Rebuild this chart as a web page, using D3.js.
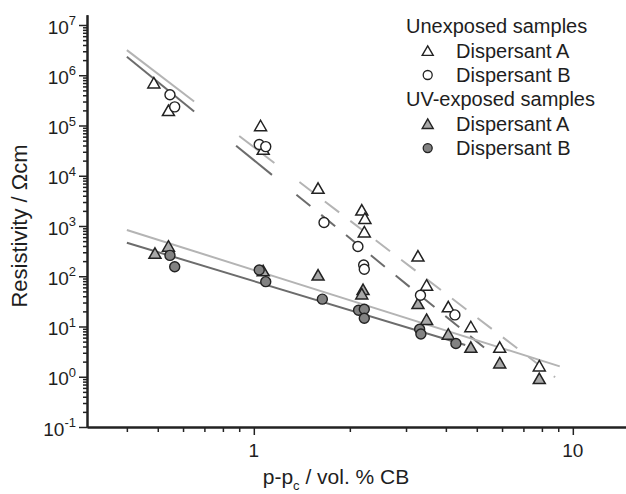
<!DOCTYPE html>
<html>
<head>
<meta charset="utf-8">
<script src="https://cdn.jsdelivr.net/npm/d3@7/dist/d3.min.js"></script>
<style>
    body { margin: 0; background: #fff; }
    svg text { font-family: "Liberation Sans", Arial, sans-serif; fill: #1e1e1e; }
</style>
</head>
<body>
<div id="chart"></div>
<script>
// Resistivity vs p-pc

// Unexposed samples
const unexpA_x = [0.486, 0.54, 1.05, 1.07, 1.59, 2.18, 2.23, 2.22, 3.27, 3.48, 4.07, 4.79, 5.9, 7.85];
const unexpA_y = [7.1e5, 2.0e5, 1.0e5, 3.4e4, 5.7e3, 2.1e3, 1.43e3, 7.7e2, 2.55e2, 67, 25, 10, 3.9, 1.66];
const unexpB_x = [0.546, 0.565, 1.04, 1.09, 1.66, 2.12, 2.21, 2.22, 3.33, 4.27];
const unexpB_y = [4.1e5, 2.35e5, 4.2e4, 3.8e4, 1.17e3, 390, 168, 138, 42, 17];

// UV-exposed samples
const uvA_x = [0.49, 0.54, 1.07, 1.59, 2.2, 2.18, 3.27, 3.48, 4.07, 4.79, 5.9, 7.85];
const uvA_y = [290, 400, 130, 107, 55, 45, 29, 14, 7.1, 3.9, 1.9, 0.93];
const uvB_x = [0.546, 0.565, 1.04, 1.09, 1.64, 2.13, 2.22, 2.22, 3.31, 3.34, 4.3];
const uvB_y = [260, 155, 133, 78, 35, 21, 22, 14.6, 8.8, 7.1, 4.6];

// fit lines, end points of each drawn piece [x, y]
const fitUnexpA_solid = [[[0.40, 3.16e6], [0.65, 3.0e5]], [[0.90, 6.2e4], [1.16, 1.8e4]]];
const fitUnexpA_dashed = [[[1.39, 7.5e3], [8.8, 0.98]]];
const fitUnexpB_solid = [[[0.40, 2.34e6], [0.65, 1.9e5]], [[0.88, 3.97e4], [1.14, 1.04e4]]];
const fitUnexpB_dashed = [[[1.36, 4.2e3], [5.4, 3.37]]];
const fitUvA = [[0.40, 832], [9.1, 1.61]];
const fitUvB = [[0.40, 465], [4.6, 4.27]];

// ticks
const xMajor = [1, 10];
const xMinor = [0.4, 0.5, 0.6, 0.7, 0.8, 0.9, 2, 3, 4, 5, 6, 7, 8, 9];
const yExponents = [-1, 0, 1, 2, 3, 4, 5, 6, 7];

const legendItems = [
    { label: 'Unexposed samples', type: 'title' },
    { label: 'Dispersant A', type: 'triOpen' },
    { label: 'Dispersant B', type: 'circOpen' },
    { label: 'UV-exposed samples', type: 'title' },
    { label: 'Dispersant A', type: 'triGrey' },
    { label: 'Dispersant B', type: 'circGrey' }
];

function drawChart() {
    const width = 626;
    const height = 494;

    const svg = d3.select('#chart').append('svg')
        .attr('width', width)
        .attr('height', height);

    const decade = 50.25;
    const x = d3.scaleLog().domain([0.3, 15]).range([87, 629]);
    const y = d3.scaleLog().domain([0.1, 1.6e7])
        .range([427, 427 - decade * Math.log10(1.6e7 / 0.1)]);

    const axisColor = '#222';
    const lightLine = '#b4b4b4';
    const darkLine = '#6c6c6c';
    const triGrey = '#a8a8a8';
    const circGrey = '#828282';

    const line = d3.line().x(d => x(d[0])).y(d => y(d[1]));

    // fit lines
    const fits = svg.append('g').attr('fill', 'none').attr('stroke-width', 2);
    fitUnexpA_solid.forEach(seg => fits.append('path').attr('d', line(seg)).attr('stroke', lightLine));
    fitUnexpA_dashed.forEach(seg => fits.append('path').attr('d', line(seg))
        .attr('stroke', lightLine).attr('stroke-dasharray', '18,14'));
    fitUnexpB_solid.forEach(seg => fits.append('path').attr('d', line(seg)).attr('stroke', darkLine));
    fitUnexpB_dashed.forEach(seg => fits.append('path').attr('d', line(seg))
        .attr('stroke', darkLine).attr('stroke-dasharray', '18,14'));
    fits.append('path').attr('d', line(fitUvA)).attr('stroke', lightLine);
    fits.append('path').attr('d', line(fitUvB)).attr('stroke', darkLine);

    // markers
    const triPath = (w, h) => `M0,${-h / 2}L${w / 2},${h / 2}L${-w / 2},${h / 2}Z`;

    function triangles(xs, ys, fill) {
        svg.append('g').selectAll('path')
            .data(xs.map((v, i) => [v, ys[i]]))
            .enter().append('path')
            .attr('d', triPath(12, 10.5))
            .attr('transform', d => `translate(${x(d[0])},${y(d[1])})`)
            .attr('fill', fill)
            .attr('stroke', '#222')
            .attr('stroke-width', 1.5)
            .attr('stroke-linejoin', 'miter');
    }

    function circles(xs, ys, fill) {
        svg.append('g').selectAll('circle')
            .data(xs.map((v, i) => [v, ys[i]]))
            .enter().append('circle')
            .attr('cx', d => x(d[0]))
            .attr('cy', d => y(d[1]))
            .attr('r', 5)
            .attr('fill', fill)
            .attr('stroke', '#222')
            .attr('stroke-width', 1.4);
    }

    triangles(uvA_x, uvA_y, triGrey);
    triangles(unexpA_x, unexpA_y, '#fff');
    circles(unexpB_x, unexpB_y, '#fff');
    circles(uvB_x, uvB_y, circGrey);

    // axes
    const x0 = x.range()[0];
    const y0 = y.range()[0];

    const yMajorVals = yExponents.map(e => Math.pow(10, e));
    const yMinorVals = [];
    yExponents.slice(0, -1).forEach(e => {
        for (let k = 2; k <= 9; k++) yMinorVals.push(k * Math.pow(10, e));
    });

    const yAxis = svg.append('g').attr('transform', `translate(${x0},0)`);
    yAxis.call(d3.axisLeft(y).tickValues(yMinorVals).tickSize(4).tickSizeOuter(0).tickFormat(''));
    yAxis.append('g').call(d3.axisLeft(y).tickValues(yMajorVals).tickSize(8).tickSizeOuter(0).tickFormat(''));
    yAxis.selectAll('.domain').attr('stroke', axisColor).attr('stroke-width', 2);
    yAxis.selectAll('.tick line').attr('stroke', axisColor).attr('stroke-width', 1.5);

    const xAxis = svg.append('g').attr('transform', `translate(0,${y0})`);
    xAxis.call(d3.axisBottom(x).tickValues(xMinor).tickSize(5).tickSizeOuter(0).tickFormat(''));
    xAxis.append('g').call(d3.axisBottom(x).tickValues(xMajor).tickSize(8).tickSizeOuter(0).tickFormat(''));
    xAxis.selectAll('.domain').attr('stroke', axisColor).attr('stroke-width', 2);
    xAxis.selectAll('.tick line').attr('stroke', axisColor).attr('stroke-width', 1.5);

    // y tick labels 10^n
    yExponents.forEach(e => {
        const t = svg.append('text')
            .attr('x', 76)
            .attr('y', y(Math.pow(10, e)) + 8.5)
            .attr('text-anchor', 'end')
            .attr('font-size', 19);
        t.append('tspan').text('10');
        t.append('tspan').attr('dy', -8.5).attr('font-size', 13).text(e);
    });

    // x tick labels
    svg.append('g').selectAll('text')
        .data(xMajor)
        .enter().append('text')
        .attr('x', d => x(d))
        .attr('y', y0 + 30)
        .attr('text-anchor', 'middle')
        .attr('font-size', 19)
        .text(d => d);

    // axis titles
    const xt = svg.append('text')
        .attr('x', 336)
        .attr('y', 484)
        .attr('text-anchor', 'middle')
        .attr('font-size', 21);
    xt.append('tspan').text('p-p');
    xt.append('tspan').attr('dy', 6).attr('font-size', 13).text('c');
    xt.append('tspan').attr('dy', -6).text(' / vol. % CB');

    svg.append('text')
        .attr('transform', `translate(26.5,${(y(1e7) + y0) / 2}) rotate(-90)`)
        .attr('text-anchor', 'middle')
        .attr('font-size', 22)
        .text('Resistivity / \u03A9cm');

    // legend
    const legend = svg.append('g').attr('transform', 'translate(406,33.3)');
    const rowH = 24.35;
    legendItems.forEach((d, i) => {
        const g = legend.append('g').attr('transform', `translate(0,${i * rowH})`);
        if (d.type === 'title') {
            g.append('text').attr('x', 0).attr('y', 0).attr('font-size', 20).text(d.label);
            return;
        }
        g.append('text').attr('x', 50).attr('y', 0).attr('font-size', 20).text(d.label);
        if (d.type.startsWith('tri')) {
            g.append('path')
                .attr('d', triPath(11, 9.5))
                .attr('transform', 'translate(21.7,-7)')
                .attr('fill', d.type === 'triGrey' ? triGrey : '#fff')
                .attr('stroke', '#222')
                .attr('stroke-width', 1.4);
        } else {
            g.append('circle')
                .attr('cx', 21.7)
                .attr('cy', -7)
                .attr('r', 4.5)
                .attr('fill', d.type === 'circGrey' ? circGrey : '#fff')
                .attr('stroke', '#222')
                .attr('stroke-width', 1.3);
        }
    });
}

drawChart();
</script>
</body>
</html>
